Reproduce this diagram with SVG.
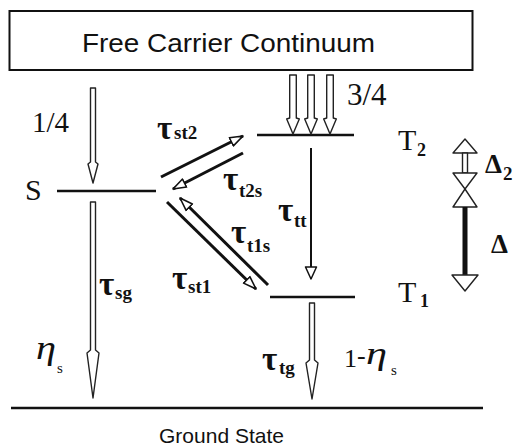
<svg xmlns="http://www.w3.org/2000/svg" width="514" height="446" viewBox="0 0 514 446">
  <style>
    .lvl { stroke: #111; stroke-width: 2.6; fill: none; }
    .hollow { fill: #fff; stroke: #222; stroke-width: 1.4; stroke-linejoin: round; }
    .ln { stroke: #111; stroke-width: 3; fill: none; }
    .thin { stroke: #111; stroke-width: 2; fill: none; }
    .sans { font-family: "Liberation Sans", Arial, sans-serif; fill: #111; }
    .ser { font-family: "Liberation Serif", "Times New Roman", serif; fill: #111; }
    .tau { font-family: "Liberation Serif", "Times New Roman", serif; font-weight: bold; font-size: 33px; fill: #111; }
    .sub { font-family: "Liberation Serif", "Times New Roman", serif; font-weight: bold; font-size: 19px; fill: #111; }
  </style>
  <defs>
    <marker id="hh" markerUnits="userSpaceOnUse" markerWidth="16" markerHeight="12" refX="14" refY="6" orient="auto">
      <path d="M1,1.5 L14,6 L1,10.5 Z" fill="#fff" stroke="#111" stroke-width="1.6" stroke-linejoin="round"/>
    </marker>
    <marker id="hv" markerUnits="userSpaceOnUse" markerWidth="16" markerHeight="14" refX="13" refY="7" orient="auto">
      <path d="M1,1.5 L13,7 L1,12.5 Z" fill="#fff" stroke="#111" stroke-width="1.5" stroke-linejoin="round"/>
    </marker>
  </defs>

  <g id="free-carrier">
    <rect x="9.5" y="11" width="463" height="59" fill="#fff" stroke="#111" stroke-width="2"/>
    <text class="sans" x="82" y="52" font-size="25" textLength="293" lengthAdjust="spacingAndGlyphs">Free Carrier Continuum</text>
  </g>

  <g id="ground-state">
    <line class="lvl" x1="11" y1="408" x2="483" y2="408"/>
    <text class="sans" x="221.5" y="443" font-size="21" text-anchor="middle">Ground State</text>
  </g>

  <g id="S">
    <line class="lvl" x1="57" y1="191" x2="156" y2="191"/>
    <text class="ser" x="25" y="200" font-size="30">S</text>
  </g>

  <g id="T2">
    <line class="lvl" x1="257" y1="135" x2="354" y2="135"/>
    <text class="ser" x="398" y="150" font-size="30">T<tspan font-size="18" font-weight="bold" x="417" y="156">2</tspan></text>
  </g>

  <g id="T1">
    <line class="lvl" x1="270" y1="297" x2="355" y2="297"/>
    <text class="ser" x="398" y="302" font-size="30">T<tspan font-size="18" font-weight="bold" x="420" y="307">1</tspan></text>
  </g>

  <g id="connectors">
    <path class="hollow" d="M90.5,88 L95.5,88 L95.5,162 L98,164 L93,183 L88,164 L90.5,162 Z"/>
    <path class="hollow" d="M289.7,75 L296.3,75 L296.3,118 L299.3,119 L293,134 L286.7,119 L289.7,118 Z"/>
    <path class="hollow" d="M307.7,75 L314.3,75 L314.3,118 L317.3,119 L311,134 L304.7,119 L307.7,118 Z"/>
    <path class="hollow" d="M326.7,75 L333.3,75 L333.3,118 L336.3,119 L330,134 L323.7,119 L326.7,118 Z"/>
    <path class="hollow" d="M90.5,202 L95.5,202 L95.5,350 L99,353 L93,398 L87,353 L90.5,350 Z"/>
    <path class="hollow" d="M309.5,303 L314.5,303 L314.5,360 L318,363 L312,399 L306,363 L309.5,360 Z"/>
    <line class="ln" x1="161" y1="177" x2="243" y2="136" marker-end="url(#hh)"/>
    <line class="ln" x1="243" y1="153" x2="173" y2="189" marker-end="url(#hh)"/>
    <line class="ln" x1="167" y1="202" x2="256" y2="289" marker-end="url(#hh)"/>
    <line class="ln" x1="268" y1="285" x2="180" y2="198" marker-end="url(#hh)"/>
    <line class="thin" x1="311" y1="148" x2="311" y2="279" marker-end="url(#hv)"/>
    <polygon class="hollow" points="465,139 477,153 453,153"/>
    <rect class="hollow" x="462.5" y="153" width="5" height="20"/>
    <polygon class="hollow" points="453,173 477,173 465,189"/>
    <polygon class="hollow" points="465,189 477,207 453,207"/>
    <rect x="462.5" y="207" width="5" height="68" fill="#111"/>
    <polygon class="hollow" points="452,275 478,275 465,291"/>
  </g>

  <g id="labels">
    <text class="ser" x="32" y="132" font-size="29">1/4</text>
    <text class="ser" x="347" y="105" font-size="31">3/4</text>
    <text class="tau" x="157" y="139">τ<tspan class="sub" x="174" y="139">st2</tspan></text>
    <text class="tau" x="223" y="190">τ<tspan class="sub" x="239" y="197">t2s</tspan></text>
    <text class="tau" x="231" y="243">τ<tspan class="sub" x="247" y="252">t1s</tspan></text>
    <text class="tau" x="172" y="289">τ<tspan class="sub" x="188" y="293">st1</tspan></text>
    <text class="tau" x="99" y="295">τ<tspan class="sub" x="115" y="299">sg</tspan></text>
    <text class="tau" x="278" y="221">τ<tspan class="sub" x="294" y="227">tt</tspan></text>
    <text class="tau" x="262" y="370">τ<tspan class="sub" x="279" y="374">tg</tspan></text>
    <text class="ser" x="36" y="359" font-size="33" font-style="italic" textLength="20" lengthAdjust="spacingAndGlyphs">η</text>
    <text class="ser" x="57" y="373" font-size="15">s</text>
    <text class="ser" x="344" y="367" font-size="26">1</text>
    <text class="ser" x="357" y="364" font-size="26">-</text>
    <text class="ser" x="366" y="364" font-size="32" font-style="italic" textLength="21" lengthAdjust="spacingAndGlyphs">η</text>
    <text class="ser" x="391" y="375" font-size="15">s</text>
    <text class="ser" x="485" y="173" font-size="27" font-weight="bold">Δ<tspan class="sub" font-size="17" x="503" y="180">2</tspan></text>
    <text class="ser" x="491" y="253" font-size="27" font-weight="bold">Δ</text>
  </g>
</svg>
